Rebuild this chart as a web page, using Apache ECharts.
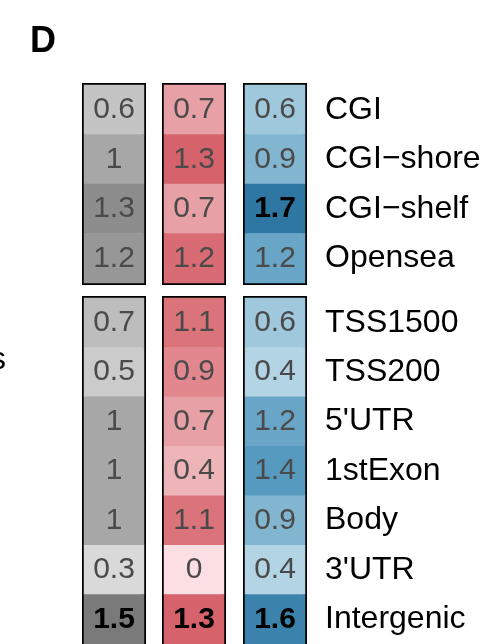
<!DOCTYPE html>
<html>
<head>
<meta charset="utf-8">
<script src="https://cdn.jsdelivr.net/npm/echarts@6/dist/echarts.min.js"></script>
<style>
  html, body { margin: 0; padding: 0; background: #fff; }
  #main { width: 484px; height: 644px; }
</style>
</head>
<body>
<div id="main"></div>
<script>
// region categories
const topRegions = ['CGI', 'CGI\u2212shore', 'CGI\u2212shelf', 'Opensea'];
const geneRegions = ['TSS1500', 'TSS200', "5'UTR", '1stExon', 'Body', "3'UTR", 'Intergenic'];

// values per column (gray / red / blue)
const grayTop = [0.6, 1, 1.3, 1.2];
const redTop = [0.7, 1.3, 0.7, 1.2];
const blueTop = [0.6, 0.9, 1.7, 1.2];
const grayGene = [0.7, 0.5, 1, 1, 1, 0.3, 1.5];
const redGene = [1.1, 0.9, 0.7, 0.4, 1.1, 0, 1.3];
const blueGene = [0.6, 0.4, 1.2, 1.4, 0.9, 0.4, 1.6];

// cells printed in bold
const boldCells = [['blue', 'CGI\u2212shelf'], ['gray', 'Intergenic'], ['red', 'Intergenic'], ['blue', 'Intergenic']];

const font = 'Liberation Sans, Arial, sans-serif';
const colLeft = { gray: 84, red: 164, blue: 245 };
const panels = [
  { cats: topRegions, top: 85, height: 198, vals: { gray: grayTop, red: redTop, blue: blueTop } },
  { cats: geneRegions, top: 298, height: 349, vals: { gray: grayGene, red: redGene, blue: blueGene } }
];
const cols = ['gray', 'red', 'blue'];

const grid = [], xAxis = [], yAxis = [], series = [];
const seriesOf = { gray: [], red: [], blue: [] };

panels.forEach(function (p) {
  cols.forEach(function (c) {
    const idx = grid.length;
    grid.push({
      left: colLeft[c], top: p.top, width: 60, height: p.height,
      show: true, borderColor: '#000', borderWidth: 4, backgroundColor: 'transparent'
    });
    xAxis.push({ type: 'category', gridIndex: idx, data: ['v'], show: false });
    yAxis.push({
      type: 'category', gridIndex: idx, data: p.cats, inverse: true,
      show: c === 'blue', position: 'right',
      axisLine: { show: false }, axisTick: { show: false }, splitLine: { show: false },
      axisLabel: { margin: 20, fontSize: 32, color: '#000', fontFamily: font, padding: [3, 0, 0, 0] }
    });
    const data = p.vals[c].map(function (v, i) {
      const bold = boldCells.some(function (b) { return b[0] === c && b[1] === p.cats[i]; });
      const item = { value: [0, i, v] };
      if (bold) item.label = { fontWeight: 'bold', color: '#000' };
      return item;
    });
    seriesOf[c].push(series.length);
    series.push({
      type: 'heatmap', xAxisIndex: idx, yAxisIndex: idx, data: data,
      label: {
        show: true, fontSize: 30, color: '#4a4a4a', fontFamily: font,
        formatter: function (d) { return String(d.value[2]); }
      },
      emphasis: { disabled: true }
    });
  });
});

const chart = echarts.init(document.getElementById('main'));
chart.setOption({
  animation: false,
  title: {
    text: 'D', left: 25, top: 19,
    textStyle: { fontSize: 36, fontWeight: 'bold', color: '#000', fontFamily: font }
  },
  graphic: [{
    type: 'text', x: 6, y: 360,
    style: { text: 's', font: '32px ' + font, fill: '#000', align: 'right', verticalAlign: 'middle' }
  }],
  visualMap: [
    { type: 'continuous', show: false, seriesIndex: seriesOf.gray, dimension: 2, min: 0.3, max: 1.5,
      inRange: { color: ['#d9d9d9', '#bdbdbd', '#a0a0a0', '#7a7a7a'] } },
    { type: 'continuous', show: false, seriesIndex: seriesOf.red, dimension: 2, min: 0, max: 1.3,
      inRange: { color: ['#fbdfe3', '#efb9bd', '#e9a6ab', '#de7e84', '#d6626b'] } },
    { type: 'continuous', show: false, seriesIndex: seriesOf.blue, dimension: 2, min: 0.4, max: 1.7,
      inRange: { color: ['#b2d4e5', '#93c0d8', '#74abca', '#5b9dc1', '#2d77a2'] } }
  ],
  grid: grid,
  xAxis: xAxis,
  yAxis: yAxis,
  series: series
});
</script>
</body>
</html>
